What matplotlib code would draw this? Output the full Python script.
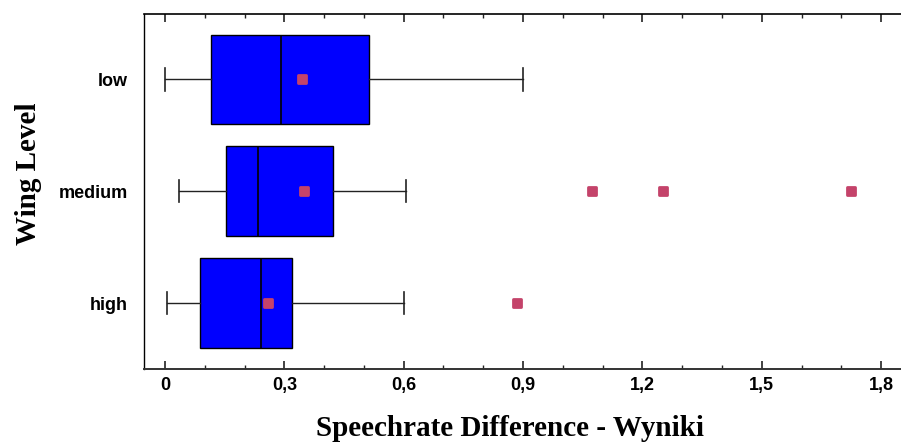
import matplotlib
matplotlib.use("Agg")
import matplotlib.pyplot as plt
from matplotlib.markers import MarkerStyle
from matplotlib.ticker import MultipleLocator, FuncFormatter

# box summaries per wing level (top to bottom)
levels = ["low", "medium", "high"]
q1 = [0.116, 0.154, 0.089]
medians = [0.291, 0.233, 0.241]
q3 = [0.513, 0.423, 0.318]
whisker_lo = [0.0, 0.034, 0.006]
whisker_hi = [0.901, 0.606, 0.601]
means = [0.344, 0.350, 0.258]
outliers = [[], [1.073, 1.251, 1.725], [0.885]]

BOX_BLUE = "#0000FF"
POINT_RED = "#C4436A"

fig = plt.figure(figsize=(9.01, 4.43), dpi=100)
ax = fig.add_axes([144 / 901, 1 - 369 / 443, 757 / 901, 355 / 443])

stats = []
for i, name in enumerate(levels):
    stats.append(dict(label=name, q1=q1[i], med=medians[i], q3=q3[i],
                      whislo=whisker_lo[i], whishi=whisker_hi[i],
                      mean=means[i], fliers=outliers[i]))

pt = MarkerStyle("s", joinstyle="round")
ax.bxp(stats, positions=range(len(levels)), vert=False, widths=0.8,
       capwidths=0.2, showmeans=True, patch_artist=True,
       boxprops=dict(facecolor=BOX_BLUE, edgecolor="black", linewidth=1.0),
       medianprops=dict(color="black", linewidth=1.2),
       whiskerprops=dict(color="#222222", linewidth=1.0),
       capprops=dict(color="#222222", linewidth=1.2),
       meanprops=dict(marker=pt, markerfacecolor=POINT_RED,
                      markeredgecolor=POINT_RED, markersize=5.5,
                      markeredgewidth=2),
       flierprops=dict(marker=pt, markerfacecolor=POINT_RED,
                       markeredgecolor=POINT_RED, markersize=5.5,
                       markeredgewidth=2))

ax.set_xlim(-0.0528, 1.850)
ax.set_ylim(2.59, -0.584)

ax.xaxis.set_major_locator(MultipleLocator(0.3))
ax.xaxis.set_minor_locator(MultipleLocator(0.1))
ax.xaxis.set_major_formatter(FuncFormatter(lambda v, p: f"{v:.1f}".replace(".", ",").replace("0,0", "0")))
ax.tick_params(axis="x", which="both", direction="in", top=True, bottom=True,
               color="#222222", labelsize=13, pad=5.5)
ax.tick_params(axis="x", which="major", length=6, width=1.2)
ax.tick_params(axis="x", which="minor", length=3, width=1.0)
ax.tick_params(axis="y", length=0, labelsize=13, pad=11.5)
for lab in ax.get_xticklabels() + ax.get_yticklabels():
    lab.set_fontfamily("Liberation Sans")
    lab.set_fontweight("bold")

ax.spines["right"].set_visible(False)
ax.spines["top"].set_linewidth(1.2)
ax.spines["left"].set_linewidth(1.0)
ax.spines["bottom"].set_linewidth(1.4)
ax.spines["bottom"].set_color("#333333")

fig.text(510 / 901, 1 - 436 / 443, "Speechrate Difference - Wyniki",
         ha="center", va="baseline", fontsize=21, fontweight="bold",
         family="Liberation Serif")
fig.text(28 / 901, 1 - 174 / 443, "Wing Level", rotation=90,
         ha="center", va="center", fontsize=21, fontweight="bold",
         family="Liberation Serif")

fig.savefig("out.png", dpi=100)
